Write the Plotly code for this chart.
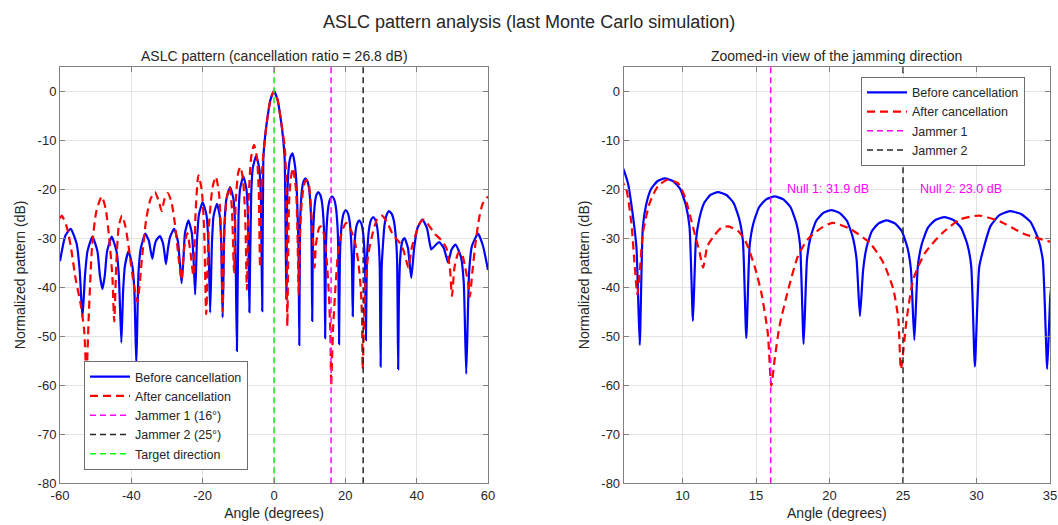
import plotly.graph_objects as go

# ---------------- data ----------------
before_angle = [
    -60.0, -58.5, -57.0, -55.35, -54.5, -53.7,
    -53.0, -52.3, -50.9, -49.5, -48.8, -48.1,
    -47.45, -46.8, -45.5, -44.15, -43.5, -42.8,
    -42.3, -41.8, -40.8, -39.7, -39.15, -38.6,
    -38.0, -37.35, -36.1, -35.1, -34.6, -34.1,
    -33.6, -33.05, -32.0, -31.15, -30.7, -30.3,
    -29.7, -29.15, -28.0, -26.95, -26.4, -25.9,
    -25.4, -24.95, -24.0, -23.05, -22.55, -22.1,
    -21.6, -21.05, -20.0, -18.95, -18.4, -17.9,
    -17.4, -16.95, -16.0, -15.2, -14.8, -14.4,
    -13.9, -13.35, -12.3, -11.35, -10.9, -10.4,
    -9.95, -9.5, -8.6, -7.75, -7.3, -6.9,
    -6.4, -5.95, -5.0, -4.15, -3.7, -3.3,
    -3.0, -2.6, -2.0, -1.0, 0.0, 1.0, 2.0, 2.6, 3.0, 3.46,
    3.67, 3.90, 4.24, 4.68, 5.2, 5.88, 6.29, 6.63, 6.87, 7.09,
    7.30, 7.52, 7.86, 8.29, 8.8, 9.37, 9.85, 10.23, 10.48, 10.71,
    10.91, 11.14, 11.48, 11.9, 12.41, 12.99, 13.47, 13.86, 14.11, 14.34,
    14.57, 14.82, 15.21, 15.69, 16.27, 16.86, 17.35, 17.75, 18.0, 18.24,
    18.47, 18.71, 19.09, 19.56, 20.12, 20.70, 21.19, 21.58, 21.84, 22.07,
    22.29, 22.52, 22.88, 23.34, 23.88, 24.45, 24.92, 25.30, 25.54, 25.77,
    26.01, 26.28, 26.69, 27.20, 27.81, 28.43, 28.95, 29.37, 29.64, 29.89,
    30.18, 30.49, 30.96, 31.56, 32.27, 33.03, 33.67, 34.18, 34.51, 34.81,
    35.02, 35.25, 35.6, 36.05, 36.6, 37.55, 38.0, 38.5,
    39.3, 40.2, 41.6, 42.9, 43.6, 44.1,
    45.2, 46.3, 47.6, 48.8,
    49.8, 50.9, 52.4, 53.2, 53.9,
    54.7, 55.5, 57.2, 58.6, 60.0,
]
before_db = [
    -34.7, -29.5, -28.1, -31.1, -36.4, -46.2,
    -37.7, -32.7, -29.7, -32.7, -37.7, -40.4,
    -37.7, -32.7, -29.7, -32.7, -37.7, -51.3,
    -40.7, -35.7, -32.7, -35.7, -40.7, -56.0,
    -37.1, -32.1, -29.1, -30.5, -32.5, -34.2,
    -32.0, -30.5, -29.6, -31.0, -33.0, -35.3,
    -32.0, -29.8, -28.1, -30.6, -35.0, -39.2,
    -34.4, -28.9, -26.4, -28.9, -34.4, -41.5,
    -30.7, -25.2, -22.7, -25.2, -30.7, -45.2,
    -31.0, -25.5, -23.0, -25.5, -31.0, -46.2,
    -27.6, -22.1, -19.6, -22.1, -27.6, -53.0,
    -25.4, -19.9, -17.4, -19.9, -25.4, -45.1,
    -21.2, -15.7, -13.2, -15.7, -21.2, -44.9,
    -14.0, -10.0, -6.3, -1.8, 0.0, -1.8, -6.3, -10.0, -14.0, -42.5,
    -22.7, -18.2, -14.9, -13.3, -12.7, -15.2, -18.8, -25.5, -32.0, -51.8,
    -27.8, -23.3, -20.0, -18.4, -17.8, -18.4, -20.0, -23.3, -27.8, -46.9,
    -30.6, -26.1, -22.8, -21.2, -20.6, -21.2, -22.8, -26.1, -30.6, -50.4,
    -31.5, -27.0, -23.7, -22.1, -21.5, -22.1, -23.7, -27.0, -31.5, -51.6,
    -34.3, -29.8, -26.5, -24.9, -24.3, -24.9, -26.5, -29.8, -34.3, -45.9,
    -36.4, -31.9, -28.6, -27.0, -26.4, -27.0, -28.6, -31.9, -36.4, -50.8,
    -35.7, -31.2, -27.9, -26.3, -25.7, -26.3, -27.9, -31.2, -35.7, -56.2,
    -36.0, -32.0, -27.5, -25.3, -24.5, -25.1, -26.7, -30.0, -34.5, -56.7,
    -42.0, -36.0, -32.2, -30.5, -30.0, -32.0, -35.0, -38.1,
    -32.0, -28.0, -26.2, -28.0, -30.8, -32.3,
    -31.5, -30.8, -32.0, -35.0,
    -32.3, -31.3, -33.8, -39.0, -57.7,
    -37.0, -31.6, -29.1, -31.6, -36.5,
]

after_angle = [
    -60.0, -59.5, -58.2, -57.0, -55.6, -54.2, -53.2, -52.6,
    -51.9, -51.0, -49.8, -48.3, -47.2, -46.2, -45.3, -44.8,
    -44.2, -43.5, -42.6, -41.7, -40.8, -39.8, -38.3,
    -37.0, -35.8, -34.6, -33.4, -32.3, -31.5, -30.7, -29.8,
    -28.8, -27.8, -26.6, -25.9, -25.2, -24.3, -23.4, -22.6,
    -22.0, -21.2, -20.3, -19.6, -19.0,
    -18.3, -17.2, -16.3, -15.4, -14.8, -14.4,
    -13.9, -13.2, -12.4, -11.8, -11.2,
    -10.7, -10.0, -9.4, -8.7, -8.1, -7.6,
    -7.1, -6.4, -5.6, -4.8, -4.3, -3.9,
    -3.4, -3.0, -2.6, -2.0, -1.0, 0.0, 1.0, 2.0, 3.0, 3.4, 3.74,
    4.2, 4.67, 5.3, 5.88, 6.18, 6.52, 6.75, 6.93,
    7.09, 7.31, 7.77, 8.33, 9.0, 9.69, 10.15, 10.7, 11.17, 11.4,
    11.7, 12.2, 12.64, 13.1, 13.8, 14.34, 14.9, 15.36, 15.8, 16.04,
    16.27, 16.6, 17.2, 17.85, 18.5, 19.45, 20.2, 21.4, 22.75, 23.66, 24.34, 24.68, 24.86,
    25.25, 25.7, 26.5, 27.7, 28.87, 30.2, 31.6, 33.2, 34.5, 35.5, 36.4, 37.7,
    38.6, 39.7, 41.0, 42.1, 43.5, 45.2, 47.0, 48.3, 49.3, 49.9,
    50.6, 51.7, 52.6, 53.6, 54.4, 54.9,
    55.6, 56.5, 57.5, 58.5, 60.0,
]
after_db = [
    -26.0, -25.4, -27.5, -31.6, -38.4, -43.5, -49.0, -58.1,
    -45.2, -31.6, -24.5, -21.5, -24.0, -30.0, -38.0, -47.0,
    -35.0, -27.5, -25.4, -27.5, -31.5, -37.0, -43.0,
    -34.0, -26.0, -22.0, -20.6, -22.5, -24.5, -22.0, -20.8,
    -22.5, -27.0, -35.0, -38.5, -32.0, -29.0, -33.0, -37.7,
    -25.0, -17.2, -20.0, -28.0, -45.5,
    -28.0, -19.5, -17.5, -21.0, -30.0, -45.0,
    -28.0, -21.5, -19.5, -24.0, -37.0,
    -22.0, -16.5, -15.5, -18.0, -25.0, -40.5,
    -22.0, -13.5, -11.0, -13.5, -20.0, -36.0,
    -17.0, -13.0, -10.0, -6.3, -1.8, 0.0, -1.8, -6.3, -11.3, -18.0, -47.9,
    -23.0, -18.0, -15.7, -18.4, -20.1, -26.9, -35.7, -41.5,
    -37.1, -28.9, -22.8, -19.4, -18.1, -18.8, -21.5, -27.6, -33.0, -36.0,
    -31.6, -29.3, -27.9, -27.6, -28.6, -31.0, -35.7, -41.1, -49.3, -60.1,
    -54.7, -47.9, -40.4, -33.7, -30.3, -27.9, -26.9, -28.1, -31.0, -35.0, -40.4, -46.5, -56.7,
    -46.5, -38.4, -33.0, -28.9, -26.2, -25.4, -26.6, -29.1, -30.3, -31.2, -32.7, -36.0,
    -32.0, -29.3, -26.8, -26.2, -27.5, -29.2, -30.5, -32.0, -36.0, -41.8,
    -36.0, -33.0, -33.0, -36.0, -39.0, -42.0,
    -37.0, -31.0, -26.0, -23.0, -21.5,
]

jammer_angles = [16, 25]
target_angle = 0
cancellation_ratio_db = 26.8
null_depths_db = [31.9, 23.0]

y_limits = [-80, 5]
y_ticks = [0, -10, -20, -30, -40, -50, -60, -70, -80]
left_x_limits = [-60, 60]
left_x_ticks = [-60, -40, -20, 0, 20, 40, 60]
right_x_limits = [6, 35]
right_x_ticks = [10, 15, 20, 25, 30, 35]

# ---------------- styling ----------------
FONT = "Liberation Sans, Arial, Helvetica, sans-serif"
TXT = "#262626"
AX = "#808080"
GRID = "#e3e3e3"
BLUE = "#0000ff"
RED = "#ff0000"
MAG = "#ff00ff"
BLK = "#262626"
GRN = "#00ff00"

fig = go.Figure()


def add_panel(xa, ya, leg, jam_names, with_target):
    fig.add_trace(go.Scatter(
        x=before_angle, y=before_db, mode="lines", name="Before cancellation",
        line=dict(color=BLUE, width=2.2, shape="spline", smoothing=0.5),
        xaxis=xa, yaxis=ya, legend=leg))
    fig.add_trace(go.Scatter(
        x=after_angle, y=after_db, mode="lines", name="After cancellation",
        line=dict(color=RED, width=2.2, dash="8px,5px", shape="spline", smoothing=0.6),
        xaxis=xa, yaxis=ya, legend=leg))
    for ang, nm, col in zip(jammer_angles, jam_names, [MAG, BLK]):
        fig.add_trace(go.Scatter(
            x=[ang, ang], y=y_limits, mode="lines", name=nm,
            line=dict(color=col, width=1.5, dash="6px,4px"),
            xaxis=xa, yaxis=ya, legend=leg))
    if with_target:
        fig.add_trace(go.Scatter(
            x=[target_angle, target_angle], y=y_limits, mode="lines",
            name="Target direction",
            line=dict(color=GRN, width=1.5, dash="6px,4px"),
            xaxis=xa, yaxis=ya, legend=leg))


add_panel("x", "y", "legend",
          [f"Jammer 1 ({jammer_angles[0]}°)", f"Jammer 2 ({jammer_angles[1]}°)"], True)
add_panel("x2", "y2", "legend2", ["Jammer 1", "Jammer 2"], False)

W, H = 1058, 525
L_left, L_right = 60, 488
R_left, R_right = 623.7, 1050
P_top, P_bot = 66.5, 483.3

axis_common = dict(
    showline=True, linecolor=AX, linewidth=1, mirror="ticks",
    ticks="inside", ticklen=5, tickcolor=AX, automargin=False,
    showgrid=True, gridcolor=GRID, gridwidth=1, zeroline=False,
    tickfont=dict(size=13, color=TXT, family=FONT),
)
ydom = [1 - P_bot / H, 1 - P_top / H]
y_ticktext = [str(v) for v in y_ticks]

fig.update_layout(
    width=W, height=H,
    margin=dict(l=0, r=0, t=0, b=0, autoexpand=False),
    paper_bgcolor="white", plot_bgcolor="white",
    font=dict(family=FONT, color=TXT, size=13),
    xaxis=dict(domain=[L_left / W, L_right / W], range=left_x_limits,
               tickvals=left_x_ticks, ticktext=[str(v) for v in left_x_ticks],
               anchor="y",
               title=dict(text="Angle (degrees)", font=dict(size=14), standoff=6),
               **axis_common),
    yaxis=dict(domain=ydom, range=y_limits, tickvals=y_ticks, ticktext=y_ticktext,
               anchor="x",
               title=dict(text="Normalized pattern (dB)", font=dict(size=14), standoff=8),
               **axis_common),
    xaxis2=dict(domain=[R_left / W, R_right / W], range=right_x_limits,
                tickvals=right_x_ticks, ticktext=[str(v) for v in right_x_ticks],
                anchor="y2",
                title=dict(text="Angle (degrees)", font=dict(size=14), standoff=6),
                **axis_common),
    yaxis2=dict(domain=ydom, range=y_limits, tickvals=y_ticks, ticktext=y_ticktext,
                anchor="x2",
                title=dict(text="Normalized pattern (dB)", font=dict(size=14), standoff=8),
                **axis_common),
    legend=dict(x=84 / W, y=1 - 470 / H, xanchor="left", yanchor="bottom",
                bgcolor="white", bordercolor="#6e6e6e", borderwidth=1,
                font=dict(size=12.5, color=TXT, family=FONT), itemwidth=40,
                tracegroupgap=0),
    legend2=dict(x=1025 / W, y=1 - 76.7 / H, xanchor="right", yanchor="top",
                 bgcolor="white", bordercolor="#6e6e6e", borderwidth=1,
                 font=dict(size=12.5, color=TXT, family=FONT), itemwidth=40,
                 tracegroupgap=0),
    annotations=[
        dict(text="ASLC pattern analysis (last Monte Carlo simulation)",
             x=0.5, y=1 - 22 / H, xref="paper", yref="paper",
             xanchor="center", yanchor="middle", showarrow=False,
             font=dict(size=18, color=TXT, family=FONT)),
        dict(text=f"ASLC pattern (cancellation ratio = {cancellation_ratio_db:.1f} dB)",
             x=(L_left + L_right) / 2 / W, y=1 - 56 / H, xref="paper", yref="paper",
             xanchor="center", yanchor="middle", showarrow=False,
             font=dict(size=14, color=TXT, family=FONT)),
        dict(text="Zoomed-in view of the jamming direction",
             x=(R_left + R_right) / 2 / W, y=1 - 56 / H, xref="paper", yref="paper",
             xanchor="center", yanchor="middle", showarrow=False,
             font=dict(size=14, color=TXT, family=FONT)),
        dict(text=f"Null 1: {null_depths_db[0]:.1f} dB",
             x=jammer_angles[0] + 1, y=-20, xref="x2", yref="y2",
             xanchor="left", yanchor="middle", showarrow=False,
             font=dict(size=12.5, color=MAG, family=FONT)),
        dict(text=f"Null 2: {null_depths_db[1]:.1f} dB",
             x=jammer_angles[1] + 1, y=-20, xref="x2", yref="y2",
             xanchor="left", yanchor="middle", showarrow=False,
             font=dict(size=12.5, color=MAG, family=FONT)),
    ],
)

fig.write_html("out.html", config={"displayModeBar": False},
               post_script="document.body.style.margin='0px';")
